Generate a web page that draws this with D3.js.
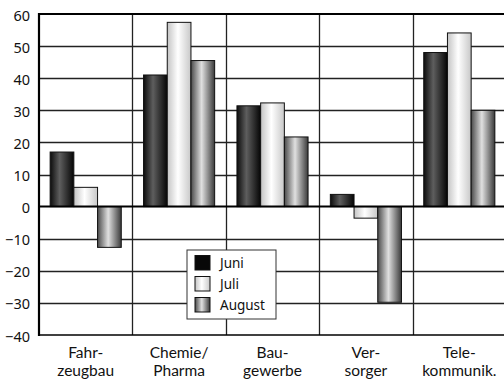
<!DOCTYPE html>
<html>
<head>
<meta charset="utf-8">
<script src="https://cdn.jsdelivr.net/npm/d3@7"></script>
<style>
  html, body { margin: 0; padding: 0; background: #fff; overflow: hidden; }
  svg { display: block; }
  text { font-family: "Noto Sans", "Open Sans", sans-serif; fill: #111; }
</style>
</head>
<body>
<svg id="chart" width="504" height="381"></svg>
<script>
// Branchen and monthly changes (%)
const categories = [["Fahr-", "zeugbau"], ["Chemie/", "Pharma"], ["Bau-", "gewerbe"], ["Ver-", "sorger"], ["Tele-", "kommunik."]];
const months = ["Juni", "Juli", "August"];
const juni = [17, 41, 31.4, 3.8, 48];
const juli = [6, 57.4, 32.3, -3.6, 54.1];
const august = [-12.7, 45.5, 21.7, -29.8, 30];
const yTicks = [60, 50, 40, 30, 20, 10, 0, -10, -20, -30, -40];

const series = [juni, juli, august];
const svg = d3.select("#chart");
const margin = { left: 39, top: 14, right: -2, bottom: 46 };
const W = 504, H = 381;

const x0 = d3.scaleBand().domain(d3.range(categories.length))
  .range([margin.left, W - margin.right]).paddingInner(0).paddingOuter(0);
const x1 = d3.scaleBand().domain(months)
  .range([0, x0.bandwidth()]).paddingOuter(0.47).paddingInner(0);
const y = d3.scaleLinear().domain([-40, 60]).range([H - margin.bottom, margin.top]);

// cylindrical shading for each month
const defs = svg.append("defs");
const grads = {
  "Juni": [["0%", "#0c0c0c"], ["40%", "#5e5e5e"], ["100%", "#050505"]],
  "Juli": [["0%", "#c4c4c4"], ["45%", "#ffffff"], ["100%", "#c8c8c8"]],
  "August": [["0%", "#4a4a4a"], ["45%", "#e0e0e0"], ["100%", "#3a3a3a"]]
};
Object.entries(grads).forEach(([k, stops]) => {
  const g = defs.append("linearGradient").attr("id", "g-" + k)
    .attr("x1", "0%").attr("x2", "100%").attr("y1", "0%").attr("y2", "0%");
  stops.forEach(([o, c]) => g.append("stop").attr("offset", o).attr("stop-color", c));
});

// horizontal grid
svg.append("g").selectAll("line").data(yTicks.filter(t => t !== 0 && t !== 60 && t !== -40))
  .join("line")
  .attr("x1", margin.left).attr("x2", W)
  .attr("y1", d => Math.round(y(d)) + 0.5).attr("y2", d => Math.round(y(d)) + 0.5)
  .attr("stroke", "#222").attr("stroke-width", 1.3);

// vertical grid at category boundaries
svg.append("g").selectAll("line").data(d3.range(1, categories.length))
  .join("line")
  .attr("x1", d => Math.round(x0(d)) + 0.5).attr("x2", d => Math.round(x0(d)) + 0.5)
  .attr("y1", margin.top).attr("y2", H - margin.bottom)
  .attr("stroke", "#222").attr("stroke-width", 1.3);

// bars
const groups = svg.append("g").selectAll("g").data(categories).join("g")
  .attr("transform", (d, i) => `translate(${x0(i)},0)`);
groups.selectAll("rect")
  .data((d, i) => months.map((m, j) => ({ m, v: series[j][i] })))
  .join("rect")
  .attr("x", d => x1(d.m))
  .attr("width", x1.bandwidth())
  .attr("y", d => y(Math.max(0, d.v)))
  .attr("height", d => Math.abs(y(d.v) - y(0)))
  .attr("fill", d => `url(#g-${d.m})`)
  .attr("stroke", "#111").attr("stroke-width", 1);

// frame: top, bottom, left axis and zero line
svg.append("line").attr("x1", margin.left).attr("x2", W).attr("y1", y(60)).attr("y2", y(60))
  .attr("stroke", "#000").attr("stroke-width", 2.2);
svg.append("line").attr("x1", margin.left).attr("x2", W).attr("y1", y(-40)).attr("y2", y(-40))
  .attr("stroke", "#000").attr("stroke-width", 1.6);
svg.append("line").attr("x1", margin.left).attr("x2", W).attr("y1", y(0)).attr("y2", y(0))
  .attr("stroke", "#000").attr("stroke-width", 2);
svg.append("line").attr("x1", margin.left).attr("x2", margin.left).attr("y1", y(60) - 1).attr("y2", y(-40) + 1)
  .attr("stroke", "#000").attr("stroke-width", 2.2);

// y tick labels
const yAxis = d3.axisLeft(y).tickValues(yTicks).tickSize(0).tickPadding(9);
const ya = svg.append("g").attr("transform", `translate(${margin.left},0)`).call(yAxis);
ya.select(".domain").remove();
ya.selectAll("text").attr("font-size", 14.5).attr("fill", "#111")
  .attr("font-family", "\"Noto Sans\", sans-serif").attr("dy", "0.42em");

// category labels, two lines each
const labelRows = [0, 1];
const cg = svg.append("g");
labelRows.forEach(r => {
  cg.append("g").selectAll("text").data(categories).join("text")
    .attr("x", (d, i) => x0(i) + x0.bandwidth() / 2)
    .attr("y", 358 + r * 18)
    .attr("text-anchor", "middle")
    .style("font-family", "Lato, sans-serif").attr("font-size", 15.5)
    .text(d => d[r]);
});

// legend
const lg = svg.append("g").attr("transform", "translate(187,250)");
lg.append("rect").attr("width", 89).attr("height", 69).attr("fill", "#fff")
  .attr("stroke", "#333").attr("stroke-width", 1);
months.forEach((m, i) => {
  const row = lg.append("g").attr("transform", `translate(8,${5.5 + i * 21})`);
  row.append("rect").attr("width", 15).attr("height", 14.5)
    .attr("fill", m === "Juni" ? "#080808" : `url(#g-${m})`)
    .attr("stroke", "#111").attr("stroke-width", 1);
  row.append("text").attr("x", 25).attr("y", 12).attr("font-size", 13.5).text(m);
});
</script>
</body>
</html>
